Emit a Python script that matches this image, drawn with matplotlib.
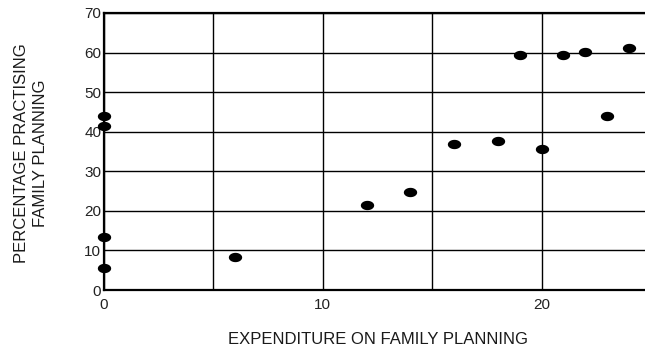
import numpy as np
import matplotlib
matplotlib.use("Agg")
import matplotlib.pyplot as plt
from matplotlib.path import Path
from matplotlib import font_manager

# Expenditure on family planning vs percentage practising
expenditure = [0, 0, 0, 0, 6, 12, 14, 16, 18, 19, 20, 21, 22, 23, 24]
practising = [44.0, 41.5, 13.5, 5.5, 8.3, 21.6, 24.7, 36.9, 37.7, 59.4, 35.6, 59.4, 60.1, 44.0, 61.2]

x_ticks = [0, 10, 20]
y_ticks = [0, 10, 20, 30, 40, 50, 60, 70]


def pick_font(names):
    for name in names:
        try:
            font_manager.findfont(name, fallback_to_default=False)
            return name
        except ValueError:
            continue
    return "DejaVu Sans"


label_font = pick_font(["Liberation Sans Narrow", "Liberation Sans"])
label_size = 14 if label_font == "Liberation Sans Narrow" else 12

fig = plt.figure(figsize=(6.45, 3.51), dpi=100)
ax = fig.add_axes([104 / 645, 1 - 290 / 351, (651 - 104) / 645, (290 - 13) / 351])

# Wide ellipse marker
t = np.linspace(0, 2 * np.pi, 60)
ellipse = Path(np.column_stack([np.cos(t), np.sin(t) * 0.7]), closed=True)

ax.scatter(expenditure, practising, marker=ellipse, s=92, color="black",
           linewidths=0, zorder=3, clip_on=False)

ax.set_xlim(0, 25)
ax.set_ylim(0, 70)
ax.set_xticks(x_ticks)
ax.set_xticks([5, 15], minor=True)
ax.set_yticks(y_ticks)
ax.grid(True, which="both", color="black", linewidth=1.0)
ax.tick_params(which="both", length=0, labelsize=11)
ax.tick_params(axis="x", pad=6)
ax.tick_params(axis="y", pad=2)
for lbl in ax.get_xticklabels() + ax.get_yticklabels():
    lbl.set_family("Liberation Sans")
    lbl.set_color("#222222")

for side in ["left", "bottom", "top", "right"]:
    ax.spines[side].set_linewidth(1.6)
ax.set_axisbelow(True)

fig.text(378 / 645, 1 - 340 / 351, "EXPENDITURE ON FAMILY PLANNING", ha="center", va="center",
         fontsize=label_size, family=label_font, color="#1a1a1a")
fig.text(31 / 645, 1 - 153 / 351, "PERCENTAGE PRACTISING\nFAMILY PLANNING", ha="center", va="center",
         rotation=90, fontsize=label_size, family=label_font, color="#1a1a1a",
         linespacing=1.3, multialignment="center")

fig.savefig("out.png", dpi=100)
